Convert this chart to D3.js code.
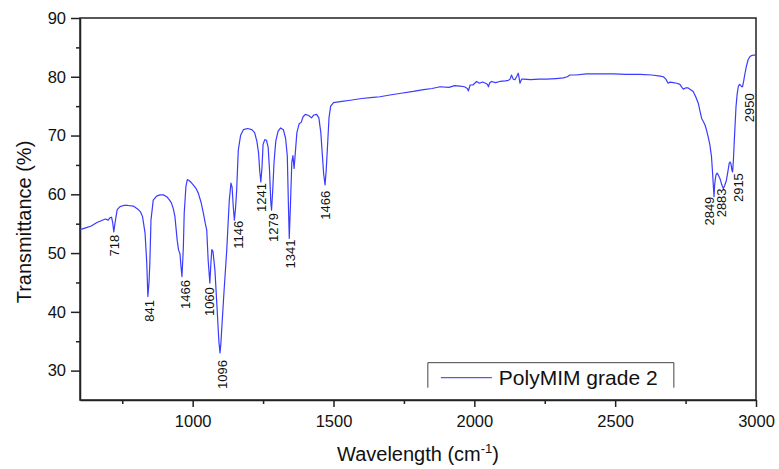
<!DOCTYPE html>
<html>
<head>
<meta charset="utf-8">
<script src="https://cdn.jsdelivr.net/npm/d3@7/dist/d3.min.js"></script>
<style>
  body { margin: 0; background: #fff; }
  svg { display: block; font-family: Arial, "Liberation Sans", sans-serif; }
  .axis path, .axis line { stroke: #222; stroke-width: 1.5; }
  .axis text { font-size: 16.5px; fill: #111; }
  .peak { font-size: 13px; fill: #111; }
</style>
</head>
<body>
<script>
const WIDTH = 779,
      HEIGHT = 469;

// spectrum
const waveNumbers = [
  600, 620, 640, 660, 675, 690, 700, 706, 712, 716, 720, 724, 728, 732, 742, 755, 770, 789, 807, 815,
  822, 831, 837, 841, 845, 848, 852, 860, 872, 884, 896, 908, 918, 925, 932, 937, 945, 950, 955, 958,
  962, 965, 967, 970, 976, 981, 986, 995, 1002, 1012, 1020, 1030, 1038, 1045, 1050, 1055, 1061, 1065, 1068, 1072,
  1076, 1079, 1087, 1093, 1097, 1100, 1103, 1111, 1121, 1130, 1136, 1140, 1144, 1148, 1152, 1156, 1162, 1170, 1180, 1195,
  1210, 1220, 1228, 1234, 1238, 1242, 1246, 1250, 1256, 1262, 1268, 1273, 1277, 1280, 1284, 1289, 1295, 1303, 1312, 1322,
  1330, 1336, 1340, 1343, 1347, 1352, 1356, 1360, 1364, 1370, 1378, 1385, 1392, 1400, 1412, 1422, 1430, 1440, 1448, 1455,
  1460, 1465, 1470, 1474, 1478, 1484, 1490, 1500, 1530, 1560, 1600, 1640, 1665, 1700, 1740, 1783, 1820, 1850, 1878, 1910,
  1930, 1949, 1965, 1975, 1979, 1985, 1995, 2008, 2018, 2029, 2040, 2047, 2050, 2055, 2061, 2075, 2091, 2110, 2121, 2127,
  2132, 2138, 2144, 2150, 2156, 2159, 2162, 2168, 2174, 2200, 2230, 2256, 2290, 2316, 2330, 2339, 2360, 2398, 2440, 2493,
  2540, 2588, 2630, 2660, 2671, 2680, 2688, 2695, 2706, 2718, 2730, 2737, 2742, 2750, 2759, 2768, 2777, 2786, 2795, 2802,
  2807, 2813, 2819, 2825, 2830, 2836, 2842, 2846, 2848, 2851, 2853, 2855, 2858, 2862, 2866, 2872, 2878, 2884, 2889, 2895,
  2900, 2905, 2908, 2911, 2915, 2917, 2920, 2923, 2929, 2933, 2937, 2941, 2945, 2949, 2952, 2956, 2961, 2966, 2972, 2978,
  2984, 2992, 3000
];
const transmittance = [
  54.0, 54.3, 54.6, 55.2, 55.5, 55.8, 55.6, 56.0, 56.1, 55.2, 53.6, 55.0, 56.2, 57.4, 57.9, 58.1, 58.1, 58.0, 57.4, 57.0,
  56.2, 53.4, 48.3, 42.6, 45.0, 48.3, 55.6, 59.0, 59.7, 59.9, 59.9, 59.6, 59.0, 58.5, 57.4, 56.2, 52.2, 50.5, 49.9, 48.0,
  46.0, 49.0, 51.1, 56.8, 61.3, 62.5, 62.4, 62.0, 61.6, 61.0, 60.2, 58.6, 56.8, 55.0, 53.9, 48.8, 44.9, 48.5, 50.6, 50.3,
  48.5, 47.1, 40.3, 35.0, 33.0, 34.5, 36.9, 43.2, 50.5, 59.0, 61.9, 61.2, 58.0, 55.6, 57.5, 60.5, 67.5, 70.0, 71.0, 71.2,
  71.0, 70.5, 69.0, 67.0, 64.0, 62.1, 64.5, 68.5, 69.3, 69.2, 68.0, 64.0, 59.0, 57.3, 60.5, 65.5, 69.0, 70.7, 71.3, 71.0,
  69.5, 66.5, 58.0, 52.5, 58.0, 65.5, 66.6, 64.4, 66.8, 70.5, 72.0, 72.2, 73.2, 73.6, 73.4, 73.0, 73.5, 73.6, 73.0, 70.5,
  67.0, 63.5, 61.6, 64.0, 67.5, 73.0, 75.0, 75.6, 75.8, 76.0, 76.3, 76.5, 76.6, 76.9, 77.2, 77.5, 77.8, 78.0, 78.3, 78.2,
  78.5, 78.4, 78.3, 78.0, 77.6, 78.6, 78.6, 79.2, 78.9, 79.1, 78.9, 78.7, 78.3, 79.0, 79.2, 79.0, 79.2, 79.3, 79.4, 79.6,
  80.3, 79.6, 79.5, 80.0, 80.6, 79.8, 78.9, 79.6, 79.6, 79.5, 79.6, 79.6, 79.7, 79.8, 80.0, 80.3, 80.3, 80.5, 80.5, 80.5,
  80.4, 80.4, 80.3, 80.1, 80.0, 79.6, 78.9, 79.1, 79.0, 78.9, 78.7, 78.2, 77.9, 78.1, 78.1, 77.8, 77.5, 76.6, 75.5, 74.0,
  72.9, 72.4, 71.8, 70.8, 69.8, 68.5, 66.4, 63.5, 61.9, 59.6, 61.5, 62.4, 63.3, 63.6, 63.3, 62.7, 61.7, 61.0, 61.5, 62.4,
  63.8, 65.3, 65.5, 65.2, 64.0, 63.8, 66.0, 69.2, 74.9, 77.0, 78.3, 78.7, 78.6, 78.3, 78.3, 79.2, 80.6, 81.8, 82.9, 83.4,
  83.6, 83.7, 83.7
];

// peak annotations (text, where its top end sits)
const peakLabels = ["718", "841", "1466", "1060", "1096", "1146", "1241", "1279", "1341", "1466", "2849", "2883", "2915", "2950"];
const peakWn     = [724, 847, 973, 1058, 1104, 1161, 1243, 1285, 1347, 1470, 2836, 2878, 2939, 2977];
const peakT      = [53.1, 42.0, 45.4, 44.2, 31.8, 55.5, 61.9, 56.8, 52.3, 60.6, 59.6, 61.0, 63.6, 77.2];

const xTicks = [1000, 1500, 2000, 2500, 3000];
const xMinorTicks = [750, 1250, 1750, 2250, 2750];
const yTicks = [30, 40, 50, 60, 70, 80, 90];
const yMinorTicks = [35, 45, 55, 65, 75, 85];

const seriesName = "PolyMIM grade 2";

let margin = { top: 18, right: 23, bottom: 69, left: 80 };
let plotW = WIDTH - margin.left - margin.right,
    plotH = HEIGHT - margin.top - margin.bottom;

let svg = d3.select("body").append("svg")
  .attr("width", WIDTH)
  .attr("height", HEIGHT);

let g = svg.append("g")
  .attr("transform", "translate(" + margin.left + "," + margin.top + ")");

let x = d3.scaleLinear().domain([600, 3000]).range([0, plotW]);
let y = d3.scaleLinear().domain([25, 90]).range([plotH, 0]);

// frame
g.append("rect")
  .attr("width", plotW)
  .attr("height", plotH)
  .attr("fill", "none")
  .attr("stroke", "#222")
  .attr("stroke-width", 1.5);

// minor ticks first, then major with labels
g.append("g")
  .attr("class", "axis")
  .attr("transform", "translate(0," + plotH + ")")
  .call(d3.axisBottom(x).tickValues(xMinorTicks).tickSize(4).tickFormat(""))
  .call(a => a.select(".domain").remove());

g.append("g")
  .attr("class", "axis")
  .attr("transform", "translate(0," + plotH + ")")
  .call(d3.axisBottom(x).tickValues(xTicks).tickSize(7).tickSizeOuter(0).tickPadding(8).tickFormat(d3.format("d")));

g.append("g")
  .attr("class", "axis")
  .call(d3.axisLeft(y).tickValues(yMinorTicks).tickSize(4).tickFormat(""))
  .call(a => a.select(".domain").remove());

g.append("g")
  .attr("class", "axis")
  .call(d3.axisLeft(y).tickValues(yTicks).tickSize(9).tickSizeOuter(0).tickPadding(5).tickFormat(d3.format("d")));

// spectrum line
let points = waveNumbers.map((w, i) => [w, transmittance[i]]);

let line = d3.line()
  .x(d => x(d[0]))
  .y(d => y(d[1]));

g.append("path")
  .datum(points)
  .attr("fill", "none")
  .attr("stroke", "#3b3bff")
  .attr("stroke-width", 1.2)
  .attr("stroke-linejoin", "round")
  .attr("d", line);

// peak labels, rotated
g.selectAll(".peak")
  .data(peakLabels)
.enter().append("text")
  .attr("class", "peak")
  .attr("text-anchor", "end")
  .attr("dy", "0.35em")
  .attr("transform", (d, i) => {
    return "translate(" + x(peakWn[i]) + "," + y(peakT[i]) + ") rotate(-90)";
  })
  .text(d => d);

// legend, open at the bottom like the original
let leg = g.append("g")
  .attr("transform", "translate(" + x(1835) + "," + y(31.35) + ")");

leg.append("path")
  .attr("d", "M0,25 V0 H246 V25")
  .attr("fill", "#fff")
  .attr("stroke", "#444")
  .attr("stroke-width", 1);

leg.append("line")
  .attr("x1", 13).attr("x2", 64)
  .attr("y1", 15).attr("y2", 15)
  .attr("stroke", "#5a5aee")
  .attr("stroke-width", 1.2);

leg.append("text")
  .attr("x", 71)
  .attr("y", 22)
  .attr("font-size", 21)
  .attr("fill", "#111")
  .text(seriesName);

// axis titles
svg.append("text")
  .attr("x", margin.left + plotW / 2)
  .attr("y", 461)
  .attr("text-anchor", "middle")
  .attr("font-size", 20)
  .attr("fill", "#111")
  .text("Wavelength (cm")
  .append("tspan")
    .attr("font-size", 13)
    .attr("dy", -8)
    .text("-1")
  .select(function() { return this.parentNode; })
  .append("tspan")
    .attr("dy", 8)
    .text(")");

svg.append("text")
  .attr("transform", "translate(31," + 222 + ") rotate(-90)")
  .attr("text-anchor", "middle")
  .attr("font-size", 20)
  .attr("fill", "#111")
  .text("Transmittance (%)");
</script>
</body>
</html>
